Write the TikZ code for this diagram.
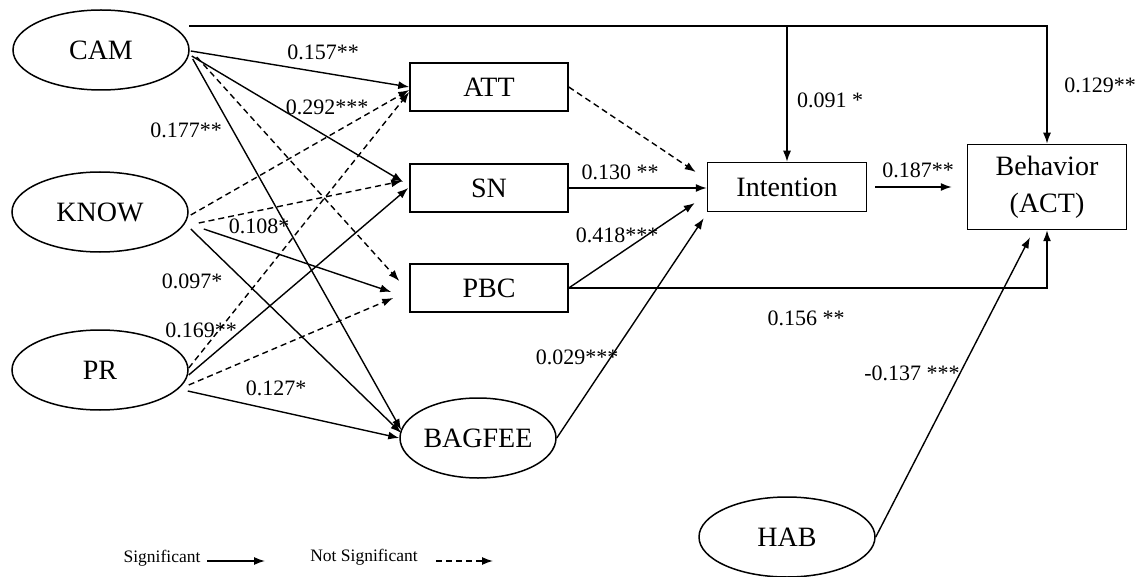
\documentclass[tikz,border=0pt]{standalone}
\usepackage{fontspec}
\setmainfont{Liberation Serif}
\usetikzlibrary{arrows.meta,shapes.geometric}
\begin{document}
\begin{tikzpicture}[x=1pt,y=-1pt,
  lat/.style={ellipse,draw,line width=1.5pt,minimum width=176pt,minimum height=80pt,inner sep=0pt,font=\fontsize{28}{30}\selectfont},
  obs/.style={rectangle,draw,line width=1.5pt,minimum width=158pt,minimum height=48pt,inner sep=0pt,font=\fontsize{28}{30}\selectfont},
  sig/.style={line width=1.4pt,-{Latex[length=11pt,width=8pt]}},
  nsig/.style={line width=1.4pt,dash pattern=on 6pt off 4pt,-{Latex[length=11pt,width=8pt]}},
  lab/.style={inner sep=0pt,font=\fontsize{22}{24}\selectfont},
  leg/.style={inner sep=0pt,font=\fontsize{17.5}{19}\selectfont}]
\useasboundingbox (0,0) rectangle (1142,577);
% nodes
\node[lat] (CAM) at (101,50) {CAM};
\node[lat] (KNOW) at (100,212) {KNOW};
\node[lat] (PR) at (100,370) {PR};
\node[lat,minimum width=156pt] (BAGFEE) at (478,438) {BAGFEE};
\node[lat] (HAB) at (787,537) {HAB};
\node[obs] (ATT) at (489,87) {ATT};
\node[obs] (SN) at (489,188) {SN};
\node[obs] (PBC) at (489,288) {PBC};
\node[obs,minimum width=159pt,minimum height=49pt] (Intention) at (787,187) {Intention};
\node[obs,minimum width=159pt,minimum height=85pt,align=center] (Behavior) at (1047,187) {Behavior\\[7pt](ACT)};
% CAM paths
\draw[sig] ([shift={(1,1)}]CAM.east) -- (ATT.west);
\draw[sig] ([shift={(2,6)}]CAM.east) -- ([shift={(-6,-6)}]SN.west);
\draw[nsig] ([shift={(7,7)}]CAM.east) -- ([shift={(-10,-7)}]PBC.west);
\draw[sig] ([shift={(3,9)}]CAM.east) -- ([shift={(2,-8)}]BAGFEE.west);
% KNOW paths
\draw[nsig] ([shift={(2,3)}]KNOW.east) -- ([shift={(0,3)}]ATT.west);
\draw[nsig] ([shift={(10,11)}]KNOW.east) -- ([shift={(-7,-7)}]SN.west);
\draw[sig] ([shift={(15,17)}]KNOW.east) -- ([shift={(-18,4)}]PBC.west);
\draw[sig] ([shift={(2,17)}]KNOW.east) -- ([shift={(2,-5)}]BAGFEE.west);
% PR paths
\draw[nsig] ([shift={(0,-2)}]PR.east) -- ([shift={(0,5)}]ATT.west);
\draw[sig] ([shift={(0,5)}]PR.east) -- ([shift={(-1,0)}]SN.west);
\draw[nsig] ([shift={(0,15)}]PR.east) -- ([shift={(-16,10)}]PBC.west);
\draw[sig] ([shift={(-1,21)}]PR.east) -- (BAGFEE.west);
% to Intention
\draw[nsig] (ATT.east) -- ([shift={(-11,-15)}]Intention.west);
\draw[sig] (SN.east) -- ([shift={(0,1)}]Intention.west);
\draw[sig] (PBC.east) -- ([shift={(-12,16)}]Intention.west);
\draw[sig] (BAGFEE.east) -- ([shift={(-3,6)}]Intention.south west);
% to Behavior
\draw[sig] ([xshift=8pt]Intention.east) -- ([xshift=-15pt]Behavior.west);
\coordinate (camtop) at (189,26);
\draw[sig,line width=1.6pt] (camtop) -| (Behavior.north);
\draw[sig] (camtop -| Intention.north) -- (Intention.north);
\draw[sig] (PBC.east) -| (Behavior.south);
\draw[sig] (HAB.east) -- ([shift={(-17,7)}]Behavior.south);
% labels
\node[lab] (l1) at (323,52) {0.157**};
\node[lab] (l2) at (327,107) {0.292***};
\node[lab] (l3) at (186,130) {0.177**};
\node[lab] (l4) at (259,226) {0.108*};
\node[lab] (l5) at (192,281) {0.097*};
\node[lab] (l6) at (201,330) {0.169**};
\node[lab] (l7) at (276,388) {0.127*};
\node[lab] (l8) at (620,172) {0.130 **};
\node[lab] (l9) at (617,235) {0.418***};
\node[lab] (l10) at (577,357) {0.029***};
\node[lab] (l11) at (918,170) {0.187**};
\node[lab] (l12) at (1100,85) {0.129**};
\node[lab] (l13) at (830,100) {0.091 *};
\node[lab] (l14) at (806,318) {0.156 **};
\node[lab] (l15) at (912,373) {-0.137 ***};
% legend
\node[leg] (sigtext) at (162,558) {Significant};
\coordinate (s1) at (207,561);
\coordinate (s2) at (265,561);
\draw[sig] (s1) -- (s2);
\node[leg] (nsigtext) at (364,557) {Not Significant};
\coordinate (n1) at (436,561);
\coordinate (n2) at (493,561);
\draw[nsig] (n1) -- (n2);
\end{tikzpicture}
\end{document}
